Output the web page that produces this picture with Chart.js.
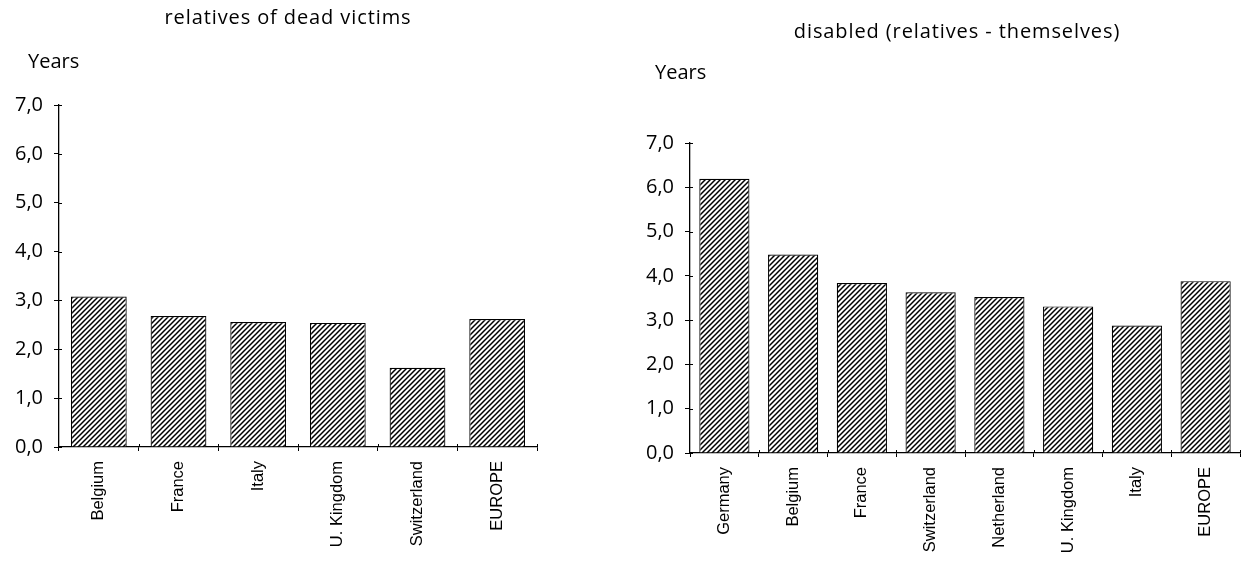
<!DOCTYPE html>
<html>
<head>
<meta charset="utf-8">
<script src="https://cdn.jsdelivr.net/npm/chart.js@4/dist/chart.umd.min.js"></script>
<style>
  html, body { margin:0; padding:0; background:#fff; }
  body { width:1258px; height:568px; position:relative; overflow:hidden; font-family:"Open Sans", sans-serif; color:#000; }
  .box { position:absolute; top:0; height:568px; }
  .txt { position:absolute; white-space:nowrap; line-height:1; }
  .ttl { font-size:20px; font-weight:500; letter-spacing:0.9px; transform:translateX(-50%); }
  .yrs { font-size:20px; }
</style>
</head>
<body>
<div class="box" style="left:0;width:560px;"><canvas id="c1" width="560" height="568"></canvas></div>
<div class="box" style="left:600px;width:658px;"><canvas id="c2" width="658" height="568"></canvas></div>
<div class="txt ttl" style="left:288px;top:7px;">relatives of dead victims</div>
<div class="txt yrs" style="left:28px;top:51px;">Years</div>
<div class="txt ttl" style="left:957px;top:21px;">disabled (relatives - themselves)</div>
<div class="txt yrs" style="left:655px;top:62px;">Years</div>
<script>
// ---- data ----
const deadCategories = ['Belgium', 'France', 'Italy', 'U. Kingdom', 'Switzerland', 'EUROPE'];
const deadValues = [3.08, 2.68, 2.56, 2.54, 1.62, 2.62];

const disabledCategories = ['Germany', 'Belgium', 'France', 'Switzerland', 'Netherland', 'U. Kingdom', 'Italy', 'EUROPE'];
const disabledValues = [6.19, 4.48, 3.84, 3.63, 3.52, 3.31, 2.88, 3.88];

const yTickLabels = ['0,0', '1,0', '2,0', '3,0', '4,0', '5,0', '6,0', '7,0'];

// ---- hatch pattern ----
function makeHatch(ctx) {
  const s = 5;
  const c = document.createElement('canvas');
  c.width = s; c.height = s;
  const g = c.getContext('2d');
  g.fillStyle = '#fff';
  g.fillRect(0, 0, s, s);
  g.strokeStyle = '#000';
  g.lineWidth = 1.5;
  g.beginPath();
  g.moveTo(0, s); g.lineTo(s, 0);
  g.moveTo(-1, 1); g.lineTo(1, -1);
  g.moveTo(s - 1, s + 1); g.lineTo(s + 1, s - 1);
  g.stroke();
  return ctx.createPattern(c, 'repeat');
}

// small inner tick marks so ticks cross the axes
const innerTicks = {
  id: 'innerTicks',
  afterDatasetsDraw(chart) {
    const ctx = chart.ctx;
    const xs = chart.scales.x, ys = chart.scales.y;
    const a = chart.chartArea;
    ctx.save();
    ctx.strokeStyle = '#000';
    ctx.lineWidth = 1;
    ctx.beginPath();
    ys.ticks.forEach((t, i) => {
      const y = Math.round(ys.getPixelForTick(i)) + 0.5;
      ctx.moveTo(a.left, y); ctx.lineTo(a.left + 3, y);
    });
    for (let i = 1; i <= xs.ticks.length; i++) {
      const x = Math.round(xs.getPixelForValue(i - 0.5)) + 0.5;
      ctx.moveTo(x, a.bottom); ctx.lineTo(x, a.bottom - 3);
    }
    ctx.stroke();
    ctx.restore();
  }
};

function buildChart(id, labels, values, cfg) {
  const canvas = document.getElementById(id);
  const ctx = canvas.getContext('2d');
  return new Chart(ctx, {
    type: 'bar',
    data: {
      labels: labels,
      datasets: [{
        data: values,
        backgroundColor: makeHatch(ctx),
        borderColor: '#000',
        borderWidth: 1.2,
        borderSkipped: 'bottom',
        barPercentage: cfg.barPct,
        categoryPercentage: 1.0
      }]
    },
    plugins: [innerTicks],
    options: {
      responsive: false,
      animation: false,
      events: [],
      layout: { padding: { left: 0, top: cfg.top, right: cfg.right, bottom: cfg.bottom } },
      plugins: { legend: { display: false }, tooltip: { enabled: false }, title: { display: false } },
      scales: {
        x: {
          grid: { display: true, drawOnChartArea: false, offset: true, tickLength: 4, color: '#000', lineWidth: 1 },
          border: { display: true, color: '#000', width: 1.3 },
          ticks: {
            color: '#000',
            font: { family: '"Liberation Sans", Arial, sans-serif', size: 16.5 },
            maxRotation: 90, minRotation: 90, padding: 10, autoSkip: false
          },
          afterFit: (s) => { s.height = cfg.xh; }
        },
        y: {
          min: 0, max: 7,
          grid: { display: true, drawOnChartArea: false, tickLength: 5, color: '#000', lineWidth: 1 },
          border: { display: true, color: '#000', width: 1.3 },
          ticks: {
            stepSize: 1,
            color: '#000',
            font: { family: '"Open Sans", sans-serif', size: 20 },
            padding: 11,
            callback: (v, i) => yTickLabels[i]
          },
          afterFit: (s) => { s.width = cfg.yw; }
        }
      }
    }
  });
}

// left: chartArea ~ x 59..537, y 105..447
buildChart('c1', deadCategories, deadValues, { top: 105, right: 23, bottom: 11, xh: 110, yw: 59, barPct: 0.7 });
// right: chartArea ~ x 690..1240 (90..640 local), y 143..453
buildChart('c2', disabledCategories, disabledValues, { top: 143, right: 18, bottom: 5, xh: 110, yw: 90, barPct: 0.73 });
</script>
</body>
</html>
